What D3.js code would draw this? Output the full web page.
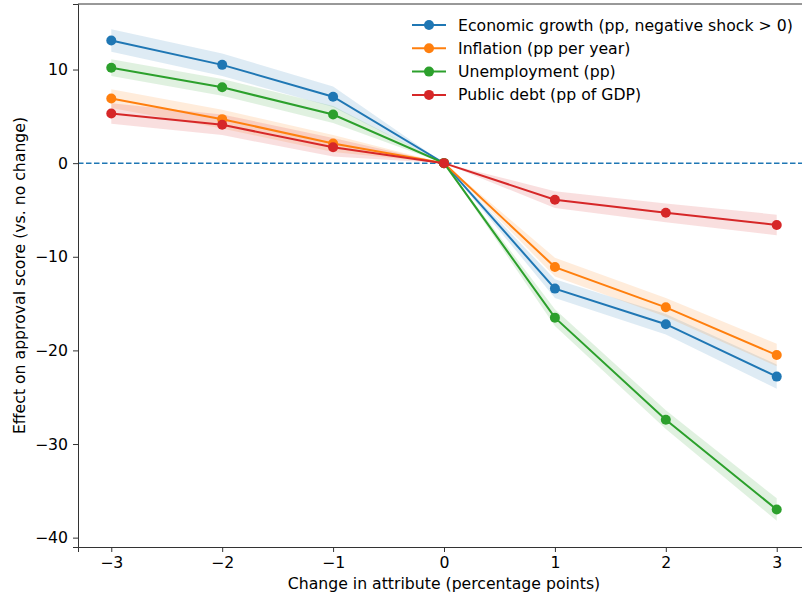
<!DOCTYPE html>
<html>
<head>
<meta charset="utf-8">
<script src="https://cdn.jsdelivr.net/npm/d3@7"></script>
<style>
  body { margin: 0; background: #fff; }
  svg { font-family: "DejaVu Sans", sans-serif; }
</style>
</head>
<body>
<svg id="chart" width="802" height="598"></svg>
<script>
const changes = [-3, -2, -1, 0, 1, 2, 3];
const seriesNames = [
  'Economic growth (pp, negative shock > 0)',
  'Inflation (pp per year)',
  'Unemployment (pp)',
  'Public debt (pp of GDP)'
];
const seriesColors = ['#1f77b4', '#ff7f0e', '#2ca02c', '#d62728'];
const growthEffect = [13.1, 10.5, 7.1, 0, -13.4, -17.2, -22.8];
const inflationEffect = [6.9, 4.7, 2.1, 0, -11.1, -15.4, -20.5];
const unemploymentEffect = [10.2, 8.1, 5.2, 0, -16.5, -27.4, -37.0];
const debtEffect = [5.3, 4.1, 1.7, 0, -3.9, -5.3, -6.6];
// half width of the shaded band
const growthErr = [1.2, 1.2, 1.1, 0, 1.0, 1.1, 1.3];
const inflationErr = [1.0, 1.0, 0.9, 0, 1.0, 1.0, 1.2];
const unemploymentErr = [0.9, 0.9, 0.9, 0, 0.9, 1.0, 1.2];
const debtErr = [1.1, 1.1, 1.0, 0, 0.9, 1.0, 1.1];
const xTicks = [-3, -2, -1, 0, 1, 2, 3];
const yTicks = [10, 0, -10, -20, -30, -40];

const values = [growthEffect, inflationEffect, unemploymentEffect, debtEffect];
const errs = [growthErr, inflationErr, unemploymentErr, debtErr];

const margin = {left: 78, top: 4, right: 810, bottom: 547};
const fontSize = 15.7;

const x = d3.scaleLinear().domain([-3.3, 3.3]).range([margin.left, margin.right]);
const y = d3.scaleLinear().domain([-41, 17]).range([margin.bottom, margin.top]);

const svg = d3.select('#chart');

// bands
values.forEach((vals, s) => {
  const rows = changes.map((c, i) => ({c, v: vals[i], e: errs[s][i]}));
  svg.append('path')
    .datum(rows)
    .attr('fill', seriesColors[s])
    .attr('fill-opacity', 0.15)
    .attr('d', d3.area().x(d => x(d.c)).y0(d => y(d.v - d.e)).y1(d => y(d.v + d.e)));
});

// zero reference line
svg.append('line')
  .attr('x1', margin.left).attr('x2', margin.right)
  .attr('y1', y(0)).attr('y2', y(0))
  .attr('stroke', '#1f77b4').attr('stroke-width', 1.5)
  .attr('stroke-dasharray', '5.5,2.5');

// lines + markers
values.forEach((vals, s) => {
  const rows = changes.map((c, i) => ({c, v: vals[i]}));
  const g = svg.append('g');
  g.append('path')
    .datum(rows)
    .attr('fill', 'none')
    .attr('stroke', seriesColors[s])
    .attr('stroke-width', 2)
    .attr('d', d3.line().x(d => x(d.c)).y(d => y(d.v)));
  g.selectAll('circle')
    .data(rows)
    .join('circle')
      .attr('cx', d => x(d.c))
      .attr('cy', d => y(d.v))
      .attr('r', 5)
      .attr('fill', seriesColors[s]);
});

// axes
const fmt = d => d < 0 ? '\u2212' + Math.abs(d) : d;
const xAxis = svg.append('g')
  .attr('transform', `translate(0 ${margin.bottom})`)
  .call(d3.axisBottom(x).tickValues(xTicks).tickSize(5).tickPadding(5).tickFormat(fmt));
const yAxis = svg.append('g')
  .attr('transform', `translate(${margin.left} 0)`)
  .call(d3.axisLeft(y).tickValues(yTicks).tickSize(5).tickPadding(5).tickFormat(fmt));
[xAxis, yAxis].forEach(a => {
  a.selectAll('text').attr('font-size', fontSize).attr('fill', '#000').attr('font-family', 'DejaVu Sans');
  a.selectAll('line').attr('stroke', '#333').attr('stroke-width', 1);
  a.select('.domain').attr('stroke', '#333').attr('stroke-width', 1);
});

// top and right spines
svg.append('line').attr('x1', margin.left).attr('x2', margin.right)
  .attr('y1', margin.top).attr('y2', margin.top)
  .attr('stroke', '#333').attr('stroke-width', 1);
svg.append('line').attr('x1', margin.right).attr('x2', margin.right)
  .attr('y1', margin.top).attr('y2', margin.bottom)
  .attr('stroke', '#333').attr('stroke-width', 1);

// axis titles
svg.append('text')
  .attr('x', 444).attr('y', 589)
  .attr('text-anchor', 'middle').attr('font-size', fontSize)
  .text('Change in attribute (percentage points)');
svg.append('text')
  .attr('transform', `translate(25 ${(margin.top + margin.bottom) / 2}) rotate(-90)`)
  .attr('text-anchor', 'middle').attr('font-size', fontSize)
  .text('Effect on approval score (vs. no change)');

// legend
const legend = svg.append('g').attr('transform', 'translate(412 25)');
seriesNames.forEach((name, i) => {
  const row = legend.append('g').attr('transform', `translate(0 ${i * 23.3})`);
  row.append('line').attr('x1', 0).attr('x2', 34).attr('y1', 0).attr('y2', 0)
    .attr('stroke', seriesColors[i]).attr('stroke-width', 2);
  row.append('circle').attr('cx', 17).attr('cy', 0).attr('r', 5).attr('fill', seriesColors[i]);
  row.append('text').attr('x', 46).attr('y', 5.5).attr('font-size', fontSize).text(name);
});
</script>
</body>
</html>
